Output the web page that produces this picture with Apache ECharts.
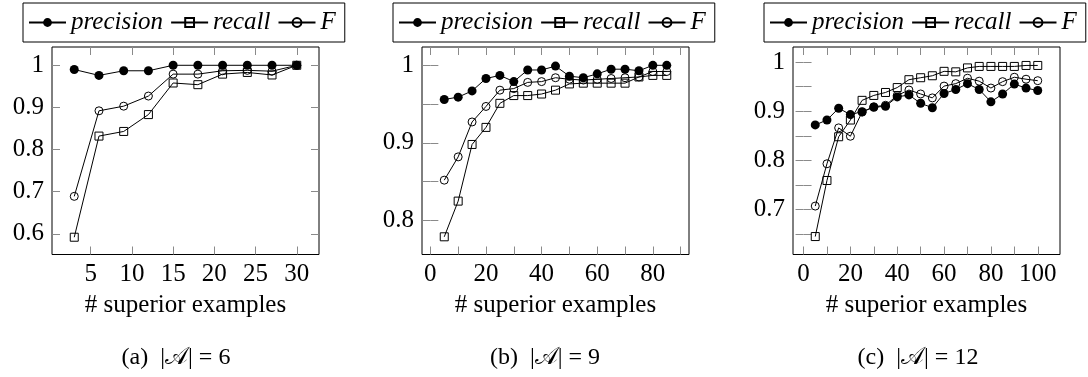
<!DOCTYPE html>
<html>
<head>
<meta charset="utf-8">
<script src="https://cdn.jsdelivr.net/npm/echarts@6/dist/echarts.min.js"></script>
<style>
html,body{margin:0;padding:0;background:#fff;}
#chart{width:1088px;height:377px;}
</style>
</head>
<body>
<div id="chart"></div>
<script>
// ---- data ----
const seriesNames = ['precision', 'recall', 'F'];

const xA = [3, 6, 9, 12, 15, 18, 21, 24, 27, 30];
const precisionA = [0.990, 0.976, 0.987, 0.987, 1.000, 1.000, 1.000, 1.000, 1.000, 1.000];
const recallA    = [0.592, 0.832, 0.843, 0.883, 0.958, 0.954, 0.979, 0.983, 0.977, 1.000];
const fA         = [0.689, 0.892, 0.903, 0.927, 0.979, 0.979, 0.987, 0.988, 0.986, 1.000];

const xB = [5, 10, 15, 20, 25, 30, 35, 40, 45, 50, 55, 60, 65, 70, 75, 80, 85];
const precisionB = [0.956, 0.959, 0.967, 0.983, 0.987, 0.979, 0.994, 0.994, 0.999, 0.986, 0.984, 0.989, 0.995, 0.995, 0.993, 1.000, 1.000];
const recallB    = [0.779, 0.825, 0.898, 0.920, 0.951, 0.961, 0.961, 0.963, 0.968, 0.976, 0.977, 0.977, 0.977, 0.977, 0.985, 0.987, 0.987];
const fB         = [0.852, 0.882, 0.927, 0.947, 0.968, 0.970, 0.978, 0.979, 0.984, 0.982, 0.981, 0.982, 0.983, 0.984, 0.985, 0.992, 0.992];

const xC = [5, 10, 15, 20, 25, 30, 35, 40, 45, 50, 55, 60, 65, 70, 75, 80, 85, 90, 95, 100];
const precisionC = [0.872, 0.882, 0.906, 0.893, 0.899, 0.908, 0.910, 0.929, 0.933, 0.916, 0.907, 0.936, 0.944, 0.956, 0.944, 0.919, 0.935, 0.955, 0.947, 0.942];
const recallC    = [0.645, 0.759, 0.848, 0.882, 0.922, 0.932, 0.938, 0.948, 0.964, 0.968, 0.972, 0.981, 0.980, 0.988, 0.991, 0.991, 0.991, 0.991, 0.993, 0.993];
const fC         = [0.707, 0.793, 0.866, 0.849, 0.898, 0.909, 0.912, 0.932, 0.943, 0.935, 0.927, 0.951, 0.956, 0.967, 0.961, 0.947, 0.960, 0.969, 0.965, 0.962];

// tick values and tick labels
const xTicksA = [5, 10, 15, 20, 25, 30];
const xLabelsA = [5, 10, 15, 20, 25, 30];
const yTicksA = [0.6, 0.7, 0.8, 0.9, 1];
const yLabelsA = [0.6, 0.7, 0.8, 0.9, 1];

const xTicksB = [0, 10, 20, 30, 40, 50, 60, 70, 80, 90];
const xLabelsB = [0, 20, 40, 60, 80];
const yTicksB = [0.8, 0.85, 0.9, 0.95, 1];
const yLabelsB = [0.8, 0.9, 1];

const xTicksC = [0, 10, 20, 30, 40, 50, 60, 70, 80, 90, 100];
const xLabelsC = [0, 20, 40, 60, 80, 100];
const yTicksC = [0.65, 0.7, 0.75, 0.8, 0.85, 0.9, 0.95, 1];
const yLabelsC = [0.7, 0.8, 0.9, 1];

const xAxisTitle = '# superior examples';
const captions = ['(a)  |\u{1D49C}| = 6', '(b)  |\u{1D49C}| = 9', '(c)  |\u{1D49C}| = 12'];

// ---- layout ----
const FONT = "'Liberation Serif', 'DejaVu Serif', serif";
const panels = [
  { xs: xA, ys: [precisionA, recallA, fA], xr: [0.3, 32.7], yr: [0.551, 1.0434],
    xt: xTicksA, xl: xLabelsA, yt: yTicksA, yl: yLabelsA, left: 52, legendLeft: 23, capX: 176 },
  { xs: xB, ys: [precisionB, recallB, fB], xr: [-3, 93], yr: [0.7562, 1.0236],
    xt: xTicksB, xl: xLabelsB, yt: yTicksB, yl: yLabelsB, left: 422, legendLeft: 393, capX: 545 },
  { xs: xC, ys: [precisionC, recallC, fC], xr: [-4.5, 109.5], yr: [0.6085, 1.0305],
    xt: xTicksC, xl: xLabelsC, yt: yTicksC, yl: yLabelsC, left: 793, legendLeft: 764, capX: 918 }
];

const GRID_TOP = 47, GRID_W = 267, GRID_H = 207.5;
const tickStyle = { show: true, inside: true, length: 8, lineStyle: { color: '#8a8a8a', width: 1 } };
const labelStyle = { color: '#000', fontFamily: FONT, fontSize: 25 };

const grids = [], xAxes = [], yAxes = [], series = [], legends = [], graphics = [];

const markerStyles = [
  { symbol: 'circle', symbolSize: 9, itemStyle: { color: '#000', borderWidth: 0 } },
  { symbol: 'rect', symbolSize: 8, itemStyle: { color: 'rgba(255,255,255,0)', borderColor: '#000', borderWidth: 1 } },
  { symbol: 'circle', symbolSize: 8, itemStyle: { color: 'rgba(255,255,255,0)', borderColor: '#000', borderWidth: 1 } }
];

panels.forEach((p, i) => {
  grids.push({ left: p.left, top: GRID_TOP, width: GRID_W, height: GRID_H,
    show: true, borderColor: '#000', borderWidth: 1, backgroundColor: 'transparent', containLabel: false });

  // bottom x axis
  xAxes.push({ type: 'value', gridIndex: i, position: 'bottom', min: p.xr[0], max: p.xr[1],
    axisLine: { show: false }, splitLine: { show: false },
    axisTick: Object.assign({ customValues: p.xt }, tickStyle),
    axisLabel: Object.assign({ customValues: p.xl, margin: 7 }, labelStyle),
    name: xAxisTitle, nameLocation: 'middle', nameGap: 38,
    nameTextStyle: { color: '#000', fontFamily: FONT, fontSize: 25 } });
  // top x axis (mirror ticks)
  xAxes.push({ type: 'value', gridIndex: i, position: 'top', min: p.xr[0], max: p.xr[1],
    axisLine: { show: false }, splitLine: { show: false },
    axisTick: Object.assign({ customValues: p.xt }, tickStyle),
    axisLabel: { show: false } });
  // left y axis
  yAxes.push({ type: 'value', gridIndex: i, position: 'left', min: p.yr[0], max: p.yr[1],
    axisLine: { show: false }, splitLine: { show: false },
    axisTick: Object.assign({ customValues: p.yt }, tickStyle),
    axisLabel: Object.assign({ customValues: p.yl, margin: 8 }, labelStyle) });
  // right y axis (mirror ticks)
  yAxes.push({ type: 'value', gridIndex: i, position: 'right', min: p.yr[0], max: p.yr[1],
    axisLine: { show: false }, splitLine: { show: false },
    axisTick: Object.assign({ customValues: p.yt }, tickStyle),
    axisLabel: { show: false } });

  p.ys.forEach((vals, k) => {
    series.push(Object.assign({
      type: 'line', name: seriesNames[k], xAxisIndex: 2 * i, yAxisIndex: 2 * i,
      data: p.xs.map((x, j) => [x, vals[j]]),
      showSymbol: true, showAllSymbol: true,
      lineStyle: { color: '#000', width: 1 },
      emphasis: { disabled: true }, z: 2 + k
    }, JSON.parse(JSON.stringify(markerStyles[k]))));
  });

  legends.push({ data: seriesNames, left: p.legendLeft, top: 3, orient: 'horizontal',
    padding: [6, 9, 6, 5], itemGap: 7, itemWidth: 37, itemHeight: 11,
    borderColor: '#000', borderWidth: 1, backgroundColor: '#fff',
    selectedMode: false,
    textStyle: { color: '#000', fontFamily: FONT, fontSize: 25, fontStyle: 'italic', lineHeight: 27 } });

  graphics.push({ type: 'text', x: p.capX, y: 358,
    style: { text: captions[i], fill: '#000', font: "24px 'Liberation Serif', 'DejaVu Serif', 'DejaVu Sans', serif",
      textAlign: 'center', textVerticalAlign: 'middle' } });
});

const chart = echarts.init(document.getElementById('chart'), null, { renderer: 'canvas' });
chart.setOption({
  animation: false,
  backgroundColor: '#fff',
  grid: grids, xAxis: xAxes, yAxis: yAxes, series: series, legend: legends,
  graphic: graphics
});
</script>
</body>
</html>
